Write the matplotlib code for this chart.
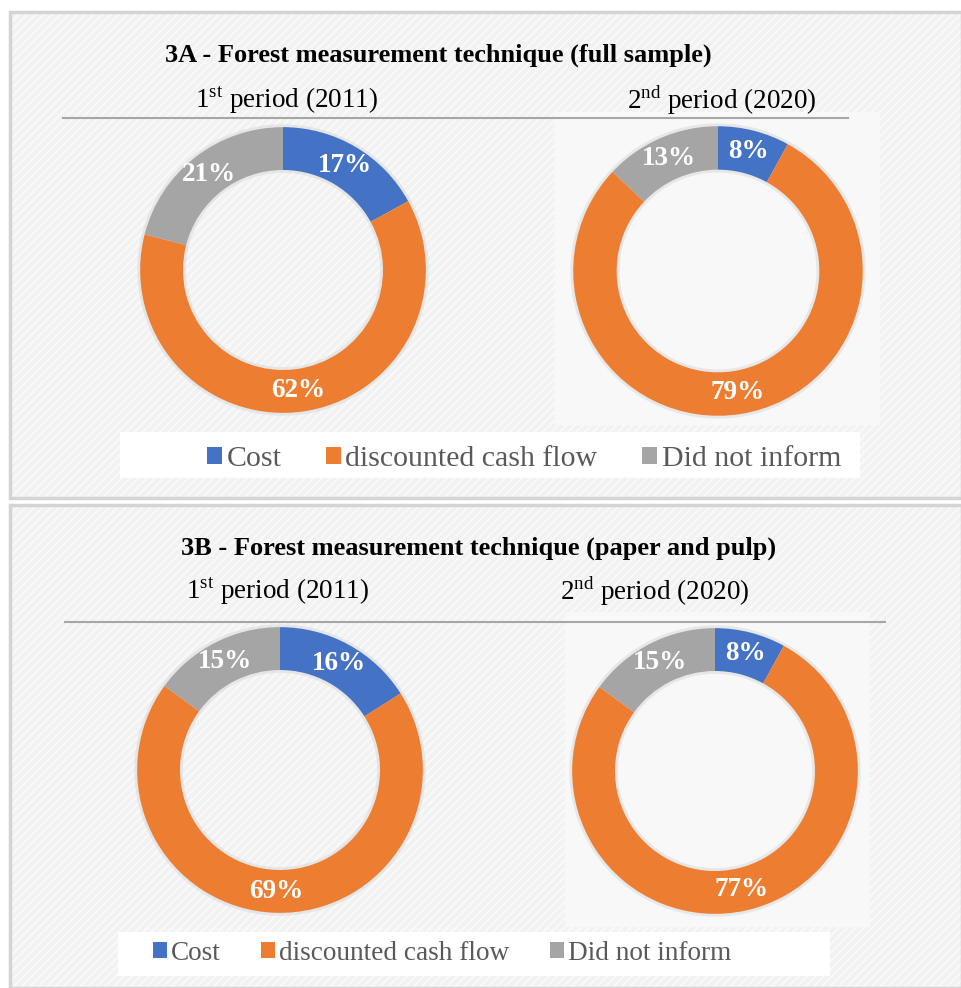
import matplotlib
matplotlib.use("Agg")
import matplotlib.pyplot as plt
from matplotlib.patches import Rectangle, Patch

plt.rcParams['font.family'] = 'Liberation Serif'
plt.rcParams['mathtext.fontset'] = 'custom'
plt.rcParams['mathtext.rm'] = 'Liberation Serif'
plt.rcParams['hatch.linewidth'] = 1.2

# data
categories = ["Cost", "discounted cash flow", "Did not inform"]
colors = ["#4472C4", "#ED7D31", "#A5A5A5"]
full_2011 = [17, 62, 21]
full_2020 = [8, 79, 13]
pulp_2011 = [16, 69, 15]
pulp_2020 = [8, 77, 15]
titles = ["3A - Forest measurement technique (full sample)",
          "3B - Forest measurement technique (paper and pulp)"]
periods = [r"1$^{\mathrm{st}}$ period (2011)", r"2$^{\mathrm{nd}}$ period (2020)"]

W, H = 962, 988
fig = plt.figure(figsize=(W / 100, H / 100), dpi=100)
fig.patch.set_facecolor("white")

bg = fig.add_axes([0, 0, 1, 1])
bg.set_xlim(0, W)
bg.set_ylim(H, 0)
bg.axis("off")

# panels: hatched light background + border
for y0, y1 in [(12, 498), (505, 988)]:
    bg.add_patch(Rectangle((10, y0), W - 10, y1 - y0, facecolor="#F2F2F2",
                           edgecolor="#FBFBFB", hatch="////", lw=0))
    bg.add_patch(Rectangle((10, y0), W - 10, y1 - y0, facecolor="none",
                           edgecolor="#D4D4D4", lw=2.5))

# lighter boxes behind the 2nd donut and legends
bg.add_patch(Rectangle((555, 112), 325, 313, facecolor="#F8F8F8", lw=0))
bg.add_patch(Rectangle((565, 612), 305, 315, facecolor="#F8F8F8", lw=0))
bg.add_patch(Rectangle((120, 432), 740, 46, facecolor="white", lw=0))
bg.add_patch(Rectangle((118, 932), 712, 44, facecolor="white", lw=0))

# titles, period labels and rules
bg.text(438, 55, titles[0], ha="center", va="center", fontsize=19, fontweight="bold")
bg.text(479, 548, titles[1], ha="center", va="center", fontsize=19, fontweight="bold")
bg.text(287, 100, periods[0], ha="center", va="center", fontsize=19.5)
bg.text(722, 100, periods[1], ha="center", va="center", fontsize=19.5)
bg.text(278, 591, periods[0], ha="center", va="center", fontsize=19.5)
bg.text(655, 591, periods[1], ha="center", va="center", fontsize=19.5)
bg.plot([63, 848], [118, 118], color="#A6A6A6", lw=1.5)
bg.plot([65, 885], [622, 622], color="#A6A6A6", lw=1.5)


def donut(values, cx, cy, R):
    ax = fig.add_axes([(cx - R) / W, 1 - (cy + R) / H, 2 * R / W, 2 * R / H])
    ax.patch.set_alpha(0)
    # soft shadow
    ax.pie(values, radius=1.02, colors=["#D8D8D8"] * 3, startangle=90,
           counterclock=False, frame=True,
           wedgeprops=dict(width=0.34, alpha=0.5, lw=0))
    ax.pie(values, radius=1.0, colors=colors, startangle=90, counterclock=False,
           frame=True, autopct=lambda p: f"{p:.0f}%", pctdistance=0.85,
           wedgeprops=dict(width=0.3, lw=0),
           textprops=dict(color="white", fontsize=19.5, fontweight="bold"))
    ax.set_xlim(-1.05, 1.05)
    ax.set_ylim(-1.05, 1.05)
    ax.axis("off")


donut(full_2011, 283, 270, 150)
donut(full_2020, 718, 271, 152)
donut(pulp_2011, 280, 770, 150)
donut(pulp_2020, 715, 771, 150)

handles = [Patch(facecolor=c, label=l) for c, l in zip(colors, categories)]
for x, y, fs in [(524, 459, 21.5), (442, 953, 19.6)]:
    fig.legend(handles=handles, loc="center", bbox_to_anchor=(x / W, 1 - y / H),
               ncol=3, frameon=False, fontsize=fs, labelcolor="#595959",
               handlelength=0.5, handleheight=0.5, handletextpad=0.15,
               columnspacing=1.5)

fig.savefig("out.png", dpi=100)
